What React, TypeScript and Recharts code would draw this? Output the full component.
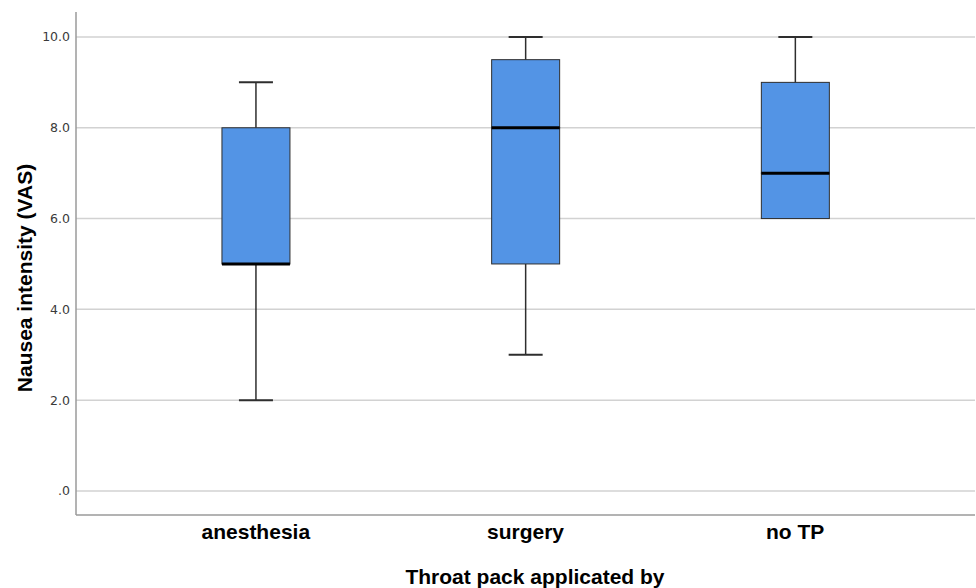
import { ComposedChart, Bar, XAxis, YAxis, CartesianGrid, Label } from "recharts";

// box plot summary per group
const categories = ["anesthesia", "surgery", "no TP"];
const mins = [2, 3, 6];
const q1s = [5, 5, 6];
const medians = [5, 8, 7];
const q3s = [8, 9.5, 9];
const maxs = [9, 10, 10];
const yTicks = [0, 2, 4, 6, 8, 10];
const Y_MIN = -0.53;
const Y_MAX = 10.55;

const data = categories.map((name, i) => ({
  name,
  x: i + 1,
  base: mins[i],
  lowWhisker: q1s[i] - mins[i],
  lowBox: medians[i] - q1s[i],
  highBox: q3s[i] - medians[i],
  highWhisker: maxs[i] - q3s[i],
}));

const FONT = "'Liberation Sans', Arial, sans-serif";
const BOX_FILL = "#5394e5";
const LINE = "#2e2e2e";

const Whisker = (capAtTop: boolean) => (props: any) => {
  const { x, y, width, height } = props;
  if (!height || height <= 0) return <g />;
  const cx = x + width / 2;
  const capY = capAtTop ? y : y + height;
  return (
    <g>
      <line x1={cx} x2={cx} y1={y} y2={y + height} stroke={LINE} strokeWidth={1.5} />
      <line x1={cx - 17} x2={cx + 17} y1={capY} y2={capY} stroke={LINE} strokeWidth={2} />
    </g>
  );
};

const BoxPart = (withMedian: boolean) => (props: any) => {
  const { x, y, width, height } = props;
  if (height == null || height < 0) return <g />;
  return (
    <g>
      {height > 0 && (
        <rect x={x} y={y} width={width} height={height} fill={BOX_FILL} stroke={LINE} strokeWidth={1} />
      )}
      {withMedian && (
        <line x1={x} x2={x + width} y1={y + height} y2={y + height} stroke="#000" strokeWidth={3} />
      )}
    </g>
  );
};

const CategoryTick = (props: any) => {
  const { x, y, payload } = props;
  return (
    <text x={x} y={y + 22} textAnchor="middle" fontFamily={FONT} fontSize={21} fontWeight="bold" fill="#000">
      {categories[payload.value - 1]}
    </text>
  );
};

// grid rows at the y ticks only (no lines on the plot border)
const gridRows = ({ offset }: any) =>
  yTicks.map((v) => offset.top + ((Y_MAX - v) / (Y_MAX - Y_MIN)) * offset.height);

export default function App() {
  return (
    <div style={{ position: "absolute", left: 0, top: 0, background: "#fff" }}>
      <ComposedChart width={976} height={588} data={data} margin={{ top: 12, right: 1, bottom: 13, left: 0 }}>
        <CartesianGrid vertical={false} stroke="#d2d2d2" strokeWidth={1.5} horizontalCoordinatesGenerator={gridRows} />
        <XAxis
          type="number"
          dataKey="x"
          domain={[1 / 3, 11 / 3]}
          ticks={[1, 2, 3]}
          allowDataOverflow
          height={60}
          tickLine={false}
          tickSize={0}
          tick={<CategoryTick />}
          axisLine={{ stroke: "#9a9a9a", strokeWidth: 1.5 }}
        >
          <Label
            content={() => (
              <text x={535} y={584} textAnchor="middle" fontFamily={FONT} fontSize={21} fontWeight="bold" fill="#000">
                Throat pack applicated by
              </text>
            )}
          />
        </XAxis>
        <YAxis
          type="number"
          domain={[Y_MIN, Y_MAX]}
          ticks={yTicks}
          allowDataOverflow
          interval={0}
          width={76}
          tickLine={false}
          tickSize={0}
          tickMargin={6}
          tickFormatter={(v: number) => (v === 0 ? ".0" : v.toFixed(1))}
          tick={{ fontFamily: "'DejaVu Sans', sans-serif", fontSize: 12.5, fill: "#3a3a3a" }}
          axisLine={{ stroke: "#9a9a9a", strokeWidth: 1.5 }}
        >
          <Label
            content={() => (
              <text
                x={24}
                y={278}
                transform="rotate(-90 24 278)"
                textAnchor="middle"
                dominantBaseline="central"
                fontFamily={FONT}
                fontSize={21}
                fontWeight="bold"
                fill="#000"
              >
                Nausea intensity (VAS)
              </text>
            )}
          />
        </YAxis>
        <Bar dataKey="base" stackId="b" barSize={68} fill="none" isAnimationActive={false} />
        <Bar dataKey="lowWhisker" stackId="b" barSize={68} shape={Whisker(false)} isAnimationActive={false} />
        <Bar dataKey="lowBox" stackId="b" barSize={68} shape={BoxPart(false)} isAnimationActive={false} />
        <Bar dataKey="highBox" stackId="b" barSize={68} shape={BoxPart(true)} isAnimationActive={false} />
        <Bar dataKey="highWhisker" stackId="b" barSize={68} shape={Whisker(true)} isAnimationActive={false} />
      </ComposedChart>
    </div>
  );
}
